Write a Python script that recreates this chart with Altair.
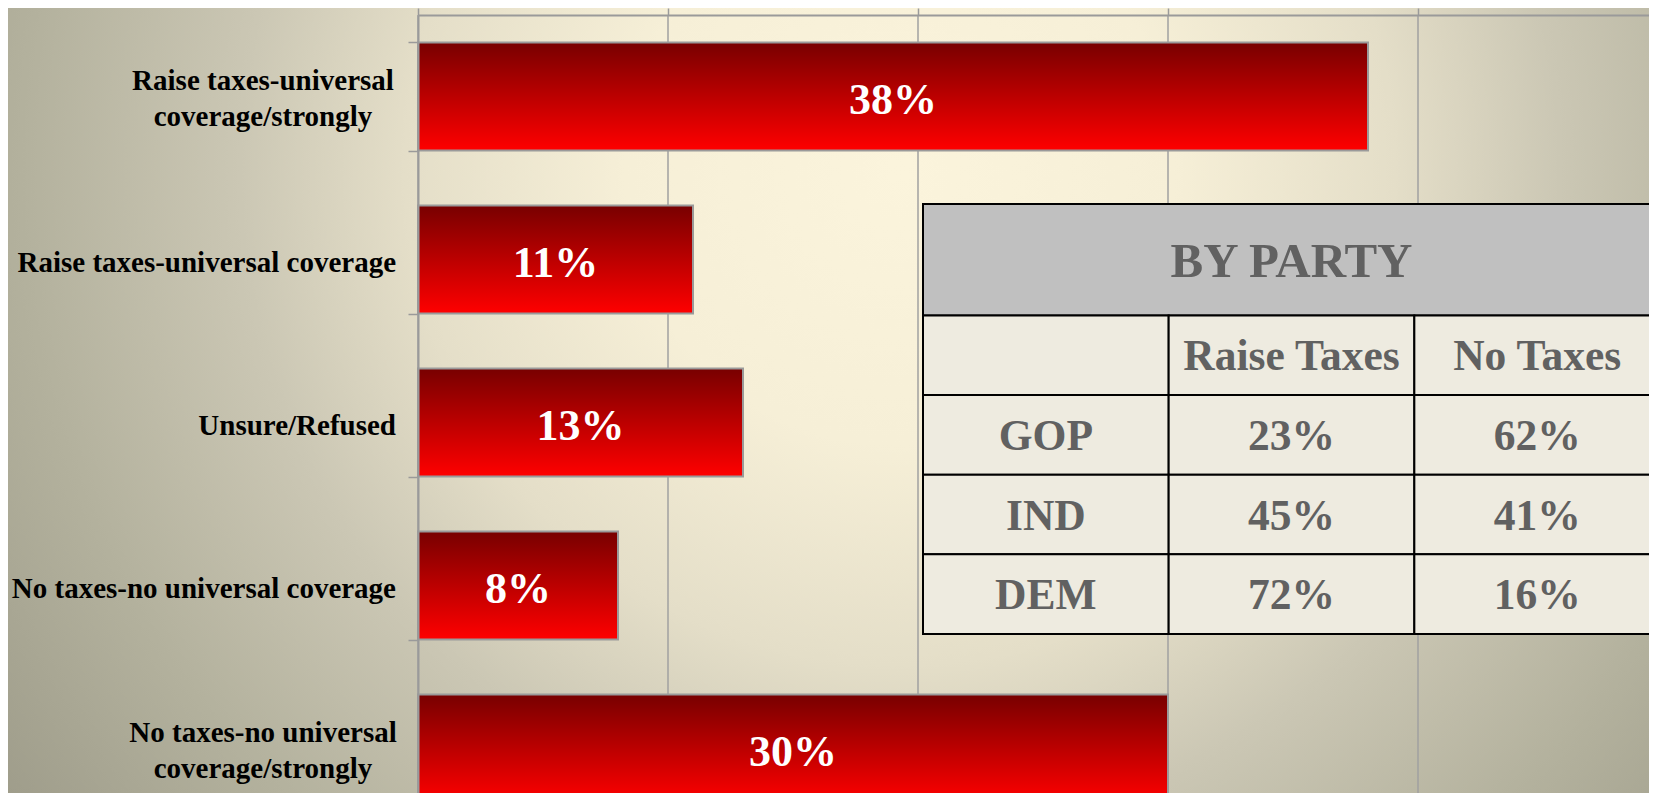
import altair as alt
import pandas as pd

# ---- data ----
categories = [
    "Raise taxes-universal|coverage/strongly",
    "Raise taxes-universal coverage",
    "Unsure/Refused",
    "No taxes-no universal coverage",
    "No taxes-no universal|coverage/strongly",
]
values = [38, 11, 13, 8, 30]
grid_ticks = [0, 10, 20, 30, 40]

table_title = "BY PARTY"
table_columns = ["", "Raise Taxes", "No Taxes"]
parties = ["GOP", "IND", "DEM"]
raise_taxes = ["23%", "45%", "72%"]
no_taxes = ["62%", "41%", "16%"]

# ---- layout constants ----
W, H = 1231, 778
BAND_RANGE = 815
FONT = "Liberation Serif"

bars_df = pd.DataFrame({
    "cat": categories,
    "val": values,
    "half": [v / 2 for v in values],
    "label": [f"{v}%" for v in values],
    "lines": [c.count("|") + 1 for c in categories],
})
grid_df = pd.DataFrame({"tick": grid_ticks})

# table cells (column index / row index units)
cells = [dict(c0=0, c1=3, r0=0, r1=1.4, text=table_title, fill="#c0c0c0", size=49)]
for j, name in enumerate(table_columns):
    cells.append(dict(c0=j, c1=j + 1, r0=1.4, r1=2.4, text=name, fill="#eeebe0", size=43.5))
for i, p in enumerate(parties):
    row = [p, raise_taxes[i], no_taxes[i]]
    for j, t in enumerate(row):
        cells.append(dict(c0=j, c1=j + 1, r0=2.4 + i, r1=3.4 + i, text=t, fill="#eeebe0", size=43.5))
cells_df = pd.DataFrame(cells)
cells_df["cx"] = (cells_df["c0"] + cells_df["c1"]) / 2
cells_df["cy"] = (cells_df["r0"] + cells_df["r1"]) / 2

xscale = alt.Scale(domain=[0, W / 25.0], nice=False, zero=True)
yscale = alt.Scale(domain=categories, range=[0, BAND_RANGE], paddingInner=0.337, paddingOuter=0.1685)

bg_grad = alt.Gradient(
    gradient="radial", x1=0.5, y1=0.5, x2=0.5, y2=0.5, r1=0, r2=0.5,
    stops=[
        alt.GradientStop(color="#fbf4dc", offset=0),
        alt.GradientStop(color="#f6efd7", offset=0.25),
        alt.GradientStop(color="#e4dec8", offset=0.45),
        alt.GradientStop(color="#cbc7b4", offset=0.6),
        alt.GradientStop(color="#b3b19d", offset=0.8),
        alt.GradientStop(color="#9e9c8a", offset=1.0),
    ],
)
bar_grad = alt.Gradient(
    gradient="linear", x1=0, y1=0, x2=0, y2=1,
    stops=[
        alt.GradientStop(color="#780000", offset=0),
        alt.GradientStop(color="#ff0000", offset=1),
    ],
)

bg = alt.Chart(pd.DataFrame({"a": [0]})).mark_rect(fill=bg_grad, strokeWidth=0).encode(
    x=alt.value(-618), x2=alt.value(1582), y=alt.value(-945), y2=alt.value(1255)
)

grid = alt.Chart(grid_df).mark_rule(color="#a0a0a0", strokeWidth=1.5).encode(
    x=alt.X("tick:Q", scale=xscale, title=None)
)

bars = alt.Chart(bars_df).mark_bar(fill=bar_grad, stroke="#9a9a9a", strokeWidth=2).encode(
    x=alt.X(
        "val:Q", scale=xscale, title=None,
        axis=alt.Axis(orient="top", labels=False, grid=False, values=grid_ticks, tickSize=7,
                      tickColor="#9a9a9a", tickWidth=1.5, domainColor="#9a9a9a", domainWidth=2,
                      title=None, zindex=1),
    ),
    y=alt.Y(
        "cat:N", scale=yscale, sort=categories, title=None,
        axis=alt.Axis(orient="left", labels=False,
                      tickBand="extent", tickSize=10, tickColor="#9a9a9a", tickWidth=1.5,
                      domainColor="#9a9a9a", domainWidth=2, grid=False, zindex=1),
    ),
)

def cat_labels(n_lines, align, dx, dy):
    return alt.Chart(bars_df).transform_filter(
        f"datum.lines == {n_lines}"
    ).mark_text(
        font=FONT, fontSize=29, fontWeight="bold", color="#000000", align=align,
        baseline="middle", lineBreak="|", lineHeight=36, dx=dx, dy=dy,
    ).encode(
        x=alt.datum(0, scale=xscale),
        y=alt.Y("cat:N", scale=yscale, sort=categories),
        text="cat:N",
    )

labels1 = cat_labels(1, "right", -22, 3)
labels2 = cat_labels(2, "center", -155, -16)

bartext = alt.Chart(bars_df).mark_text(
    font=FONT, fontSize=44, fontWeight="bold", color="white", align="center", baseline="middle", dy=4
).encode(
    x=alt.X("half:Q", scale=xscale),
    y=alt.Y("cat:N", scale=yscale, sort=categories),
    text="label:N",
)

tx = alt.Scale(domain=[0, 3], range=[505, 1242])
ty = alt.Scale(domain=[0, 5.4], range=[189, 619])

trect = alt.Chart(cells_df).mark_rect(stroke="#000000", strokeWidth=2).encode(
    x=alt.X("c0:Q", scale=tx, axis=None),
    x2="c1:Q",
    y=alt.Y("r0:Q", scale=ty, axis=None),
    y2="r1:Q",
    fill=alt.Fill("fill:N", scale=None),
)
ttext = alt.Chart(cells_df).mark_text(
    font=FONT, fontWeight="bold", color="#616161", align="center", baseline="middle", dy=2
).encode(
    x=alt.X("cx:Q", scale=tx, axis=None),
    y=alt.Y("cy:Q", scale=ty, axis=None),
    text="text:N",
    size=alt.Size("size:Q", scale=None),
)

main = alt.layer(bg, grid, bars, bartext, labels1, labels2)
table = alt.layer(trect, ttext)

chart = alt.layer(main, table).resolve_scale(x="independent", y="independent").properties(
    width=W, height=H,
    autosize=alt.AutoSizeParams(type="none"),
    padding={"left": 410, "top": 7, "right": 0, "bottom": 0},
).configure_view(stroke=None)

chart.save("out.html", embed_options={"renderer": "svg", "actions": False})
